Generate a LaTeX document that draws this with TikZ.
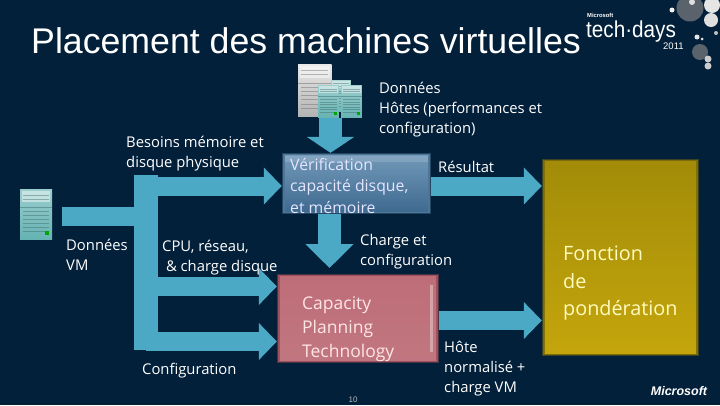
\documentclass[tikz,border=0pt]{standalone}
\usepackage{fontspec}
\setmainfont{Open Sans}
\newfontfamily\titlefont{Liberation Sans}
\usetikzlibrary{arrows.meta}
\definecolor{bg}{HTML}{03203A}
\definecolor{flow}{HTML}{4BA9C6}
\definecolor{bluee}{HTML}{4D7596}
\definecolor{bluet}{HTML}{7198B8}
\definecolor{blueb}{HTML}{3F6A90}
\definecolor{rede}{HTML}{9E4F5A}
\definecolor{redt}{HTML}{BE6E78}
\definecolor{redb}{HTML}{C07680}
\definecolor{yele}{HTML}{7D6C0A}
\definecolor{yelt}{HTML}{A28C08}
\definecolor{yelb}{HTML}{C4A50C}
\newcommand\softbox[8]{% name, cx, cy, w, h, edge, top, bottom
  \node[minimum width=#4pt,minimum height=#5pt,inner sep=0pt,fill=#6,fill opacity=.45] (#1) at (#2,#3) {};
  \fill[#6] ([xshift=1.5pt,yshift=-1.5pt]#1.north west) rectangle ([xshift=-1.5pt,yshift=1.5pt]#1.south east);
  \fill[top color=#7,bottom color=#8] ([xshift=3pt,yshift=-3pt]#1.north west) rectangle ([xshift=-3pt,yshift=3pt]#1.south east);
}
\newcommand\srv[5]{% x, y, scale, light, dark
  \begin{scope}[shift={(#1,#2)},xscale=#3,yscale=#3]
    \fill[top color=#4!70!white,bottom color=#5] (0,0) rectangle (32,50);
    \fill[white,opacity=.45] (2,2) rectangle (30,13);
    \foreach \yy in {6,10,22,26,30,34,38,42} {\draw[#5!60!black,opacity=.45,line width=.6pt] (3,\yy) -- (29,\yy);}
    \draw[#5!70!black,opacity=.6,line width=.8pt] (0,18) -- (32,18);
    \fill[green!65!black] (25,42) rectangle (29,46);
  \end{scope}
}
\tikzset{
  blockflow/.style={draw=flow,line width=19pt,-{Triangle[length=18pt,width=36pt]}},
  stub/.style={draw=flow,line width=19pt},
  label/.style={anchor=north west,inner sep=0pt,align=left,text=white,font=\fontsize{14.8}{20}\selectfont},
  boxtext/.style={anchor=north west,inner sep=0pt,align=left}
}
\begin{document}
\begin{tikzpicture}[x=1pt,y=-1pt]
\useasboundingbox (0,0) rectangle (720,405);
\fill[bg] (0,0) rectangle (720,405);
\clip (0,0) rectangle (720,405);
% bubbles
\fill[gray!70!bg] (690,8) circle (13.5);
\fill[gray!20!white] (712,5) circle (8);
\fill[gray!25!white] (711,20) circle (7);
\fill[gray!10!white] (672,10) circle (2.5);
\fill[gray!25!white] (692,2) circle (3);
\fill[gray!20!white] (697,37) circle (2.5);
\fill[gray!20!white] (702,39) circle (1.5);
\fill[gray!70!bg] (700,52) circle (8);
\fill[gray!40!white] (708,59) circle (3.5);
\fill[gray!40!white] (708,66) circle (3.5);
\fill[gray!50!white] (716,33) circle (2);
% title & logo
\node[anchor=base west,inner sep=0pt,text=white,font=\titlefont\fontsize{35.7}{37}\selectfont] (title) at (31,53) {Placement des machines virtuelles};
\node[anchor=base west,inner sep=0pt,text=white,font=\titlefont\bfseries\fontsize{5.8}{7}\selectfont] (mslogo) at (587,17) {Microsoft};
\node[anchor=base west,inner sep=0pt,xscale=.9,text=white,font=\titlefont\fontsize{23}{25}\selectfont] (techdays) at (586,37) {tech·days};
\node[anchor=base west,inner sep=0pt,text=white,font=\titlefont\fontsize{9.5}{11}\selectfont] (year) at (663,49) {2011};
% boxes
\softbox{blue}{356.5}{183.5}{149}{61}{bluee}{bluet}{blueb}
\fill[white,opacity=.14] (285,156) rectangle (428,162);
\softbox{red}{358}{318.5}{162}{89}{rede}{redt}{redb}
\fill[white,opacity=.35] (430,285) rectangle (433,352);
\softbox{yellow}{620.5}{257.5}{157}{197}{yele}{yelt}{yelb}
% trunk
\node[minimum width=24pt,minimum height=175pt,inner sep=0pt,fill=flow] (trunk) at (146,262.5) {};
% icons
\node[minimum width=32pt,minimum height=50pt,inner sep=0pt] (vmicon) at (36,214) {};
\srv{20}{189}{1}{teal!55!white}{teal!60!white}
\node[minimum width=33pt,minimum height=53pt,inner sep=0pt] (hosticon) at (314.5,90.5) {};
\srv{298}{64}{1.05}{gray!25!white}{gray!60!white}
\srv{331}{80}{.62}{teal!50!white}{teal!55!white}
\srv{318}{85}{.65}{teal!55!white}{teal!60!white}
\srv{341}{85}{.65}{teal!55!white}{teal!60!white}
% connectors
\coordinate (vmstart) at (62,216.5);
\draw[stub] (vmstart) -- (trunk.west |- vmstart);
\coordinate (t1) at (146,186);
\coordinate (t2) at (146,286.5);
\coordinate (t3) at (146,341.5);
\draw[blockflow] (t1) -- (blue.west |- t1);
\draw[blockflow] (t2) -- (red.west |- t2);
\draw[blockflow] (t3) -- (red.west |- t3);
\coordinate (hs) at (330.5,118);
\draw[blockflow,line width=23pt,-{Triangle[length=16pt,width=47pt]}] (hs) -- (hs |- blue.north);
\coordinate (bs) at (329.5,214);
\coordinate (rt) at (329.5,268);
\draw[blockflow,line width=23pt,-{Triangle[length=24pt,width=47pt]}] (bs) -- (rt);
\coordinate (rs1) at (431,186);
\draw[blockflow] (blue.east |- rs1) -- (yellow.west |- rs1);
\coordinate (rs2) at (439,320.5);
\draw[blockflow] (red.east |- rs2) -- (yellow.west |- rs2);
% labels
\node[label] (besoins) at (126,135.5) {Besoins mémoire et\\disque physique};
\node[label] (donvm) at (66,238.5) {Données\\VM};
\node[label] (cpu) at (162,239.5) {CPU, réseau,\\\ \& charge disque};
\node[label] (conf) at (142,362.5) {Configuration};
\node[label] (dh) at (379,81.5) {Données\\Hôtes (performances et\\configuration)};
\node[label] (res) at (438,160.5) {Résultat};
\node[label] (charge) at (360,234.5) {Charge et\\configuration};
\node[label] (hote) at (444,340.5) {Hôte\\normalisé +\\charge VM};
\node[boxtext,text=white!90!blue,font=\fontsize{15.8}{21.5}\selectfont] (vtxt) at (290,158) {Vérification\\capacité disque,\\et mémoire};
\node[boxtext,text=white!90!red,font=\fontsize{17.5}{24}\selectfont] (ctxt) at (302,296.5) {Capacity\\Planning\\Technology};
\node[boxtext,text=yellow!25!white,font=\fontsize{19.8}{27.5}\selectfont] (ftxt) at (563,246) {Fonction\\de\\pondération};
\node[anchor=center,inner sep=0pt,text=white!70!bg,font=\titlefont\fontsize{8}{9}\selectfont] (pnum) at (353,400) {10};
\node[anchor=center,inner sep=0pt,text=white,font=\titlefont\bfseries\itshape\fontsize{12.5}{13}\selectfont] (ms) at (679,391) {Microsoft};
\end{tikzpicture}
\end{document}
